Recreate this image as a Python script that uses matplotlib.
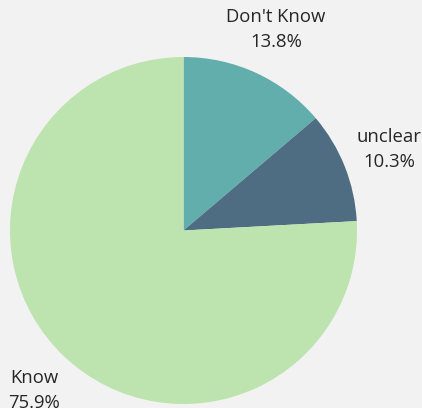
import matplotlib
matplotlib.use("Agg")
import matplotlib.pyplot as plt
import numpy as np

categories = ["Don't Know", "unclear", "Know"]
counts = [4, 3, 22]
colors = ["#62aead", "#4f6d82", "#bde3ae"]

W, H = 422, 408
fig = plt.figure(figsize=(W / 100, H / 100), dpi=100, facecolor="#f2f2f2")
cx, cy, r = 183.5, 230.5, 173.5
ax = fig.add_axes([(cx - r) / W, (H - cy - r) / H, 2 * r / W, 2 * r / H])
ax.set_facecolor("#f2f2f2")

total = sum(counts)
wedges, _ = ax.pie(counts, colors=colors, startangle=90, counterclock=False,
                   radius=1, wedgeprops=dict(linewidth=0))
ax.set_xlim(-1, 1)
ax.set_ylim(-1, 1)
ax.set_aspect("equal")
ax.axis("off")

# label anchors in figure pixel coordinates (x center, y of first line)
label_pos = [(276, 17), (389, 137), (34, 378)]
for name, c, (lx, ly) in zip(categories, counts, label_pos):
    pct = 100 * c / total
    fig.text(lx / W, 1 - ly / H, name, ha="center", va="center",
             fontsize=13.3, color="#262626", family="Open Sans")
    fig.text(lx / W, 1 - (ly + 25) / H, f"{pct:.1f}%", ha="center", va="center",
             fontsize=13.3, color="#262626", family="Open Sans")

fig.savefig("out.png", dpi=100, facecolor=fig.get_facecolor())
